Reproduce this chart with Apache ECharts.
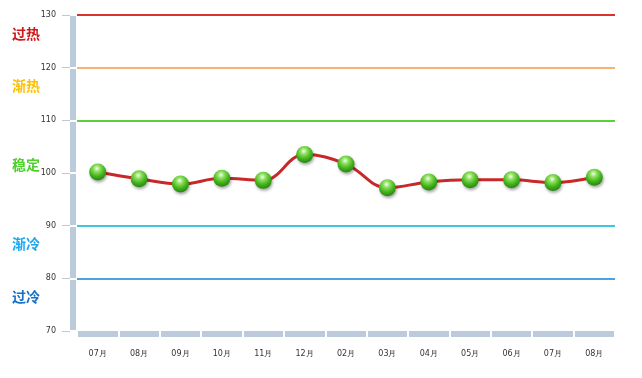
<!DOCTYPE html>
<html>
<head>
<meta charset="utf-8">
<script src="https://cdn.jsdelivr.net/npm/echarts@6/dist/echarts.min.js"></script>
<style>html,body{margin:0;padding:0;background:#fff;}#c{width:642px;height:378px;}</style>
</head>
<body>
<div id="c"></div>
<script>
const categories = ['07月','08月','09月','10月','11月','12月','02月','03月','04月','05月','06月','07月','08月'];
const values = [100.2, 98.9, 97.9, 99.0, 98.6, 103.5, 101.7, 97.2, 98.3, 98.7, 98.7, 98.2, 99.2];
const yMin = 70, yMax = 130, yStep = 10;
const levelValues = [130, 120, 110, 90, 80];
const zoneNames = ['过热', '渐热', '稳定', '渐冷', '过冷'];
const zoneValues = [126.5, 116.5, 101.5, 86.5, 76.5];

const levelColors = ['#d83232', '#f6b173', '#5ecf3c', '#3ec6de', '#4ea2e0'];
const zoneColors = ['#d01818', '#ffc000', '#4cd02a', '#1aa8f0', '#1672c6'];
const barColor = '#bccbdc';

const chart = echarts.init(document.getElementById('c'), null, {renderer: 'canvas'});
const rich = {};
zoneNames.forEach((n, i) => {
  rich['z' + i] = {color: zoneColors[i], fontSize: 14, fontWeight: 'bold', fontFamily: 'Noto Sans CJK SC'};
});
const baseY = {type: 'value', min: yMin, max: yMax, interval: yStep, position: 'left', splitLine: {show: false}};
const option = {
  animation: false,
  grid: {left: 77, right: 27, top: 15, bottom: 47, containLabel: false},
  xAxis: [
    {type: 'category', data: categories, boundaryGap: true, position: 'bottom', offset: 3, z: 1,
     axisLine: {show: true, lineStyle: {color: barColor, width: 6, cap: 'butt'}},
     axisTick: {show: false},
     axisLabel: {margin: 16, fontSize: 8, color: '#333', fontFamily: 'DejaVu Sans'}},
    {type: 'category', data: categories, boundaryGap: true, position: 'bottom', offset: 0, z: 6, zlevel: 1,
     axisLine: {show: false},
     axisTick: {show: true, length: 6, lineStyle: {color: '#fff', width: 2}},
     axisLabel: {show: false}}
  ],
  yAxis: [
    Object.assign({}, baseY, {offset: 7, z: 2,
      axisLine: {show: false},
      axisTick: {show: true, length: 8, lineStyle: {color: '#c0c8d0', width: 1}},
      axisLabel: {margin: 14, fontSize: 8, color: '#333', fontFamily: 'DejaVu Sans'}}),
    Object.assign({}, baseY, {offset: 4, z: 1,
      axisLine: {show: true, lineStyle: {color: barColor, width: 6, cap: 'butt'}},
      axisTick: {show: false},
      axisLabel: {show: false}}),
    Object.assign({}, baseY, {offset: 1, z: 6, zlevel: 1,
      axisLine: {show: false},
      axisTick: {show: true, inside: false, length: 6, lineStyle: {color: '#ffffff', width: 2}},
      axisLabel: {show: false}}),
    Object.assign({}, baseY, {offset: 0, z: 4,
      axisLine: {show: false}, axisTick: {show: false},
      axisLabel: {show: true, customValues: zoneValues, margin: 65, align: 'left',
        formatter: function (v) {
          const i = zoneValues.indexOf(v);
          return i >= 0 ? '{z' + i + '|' + zoneNames[i] + '}' : '';
        }, rich: rich}})
  ],
  series: [{
    type: 'line',
    xAxisIndex: 0, yAxisIndex: 0,
    data: values,
    smooth: 0.4,
    z: 5,
    lineStyle: {color: '#c82828', width: 3},
    symbol: 'circle',
    symbolSize: 17,
    itemStyle: {
      color: new echarts.graphic.RadialGradient(0.45, 0.3, 0.75, [
        {offset: 0, color: '#f0fff0'},
        {offset: 0.25, color: '#8fe060'},
        {offset: 0.6, color: '#44b41c'},
        {offset: 1, color: '#1f7c0c'}
      ]),
      borderWidth: 0,
      shadowBlur: 3, shadowColor: 'rgba(0,0,0,0.35)', shadowOffsetX: 1, shadowOffsetY: 2
    },
    markLine: {
      silent: true, symbol: 'none', z: 1,
      label: {show: false},
      data: levelValues.map((v, i) => ({yAxis: v, lineStyle: {color: levelColors[i], width: 2, type: 'solid'}}))
    }
  }]
};
chart.setOption(option);
</script>
</body>
</html>
